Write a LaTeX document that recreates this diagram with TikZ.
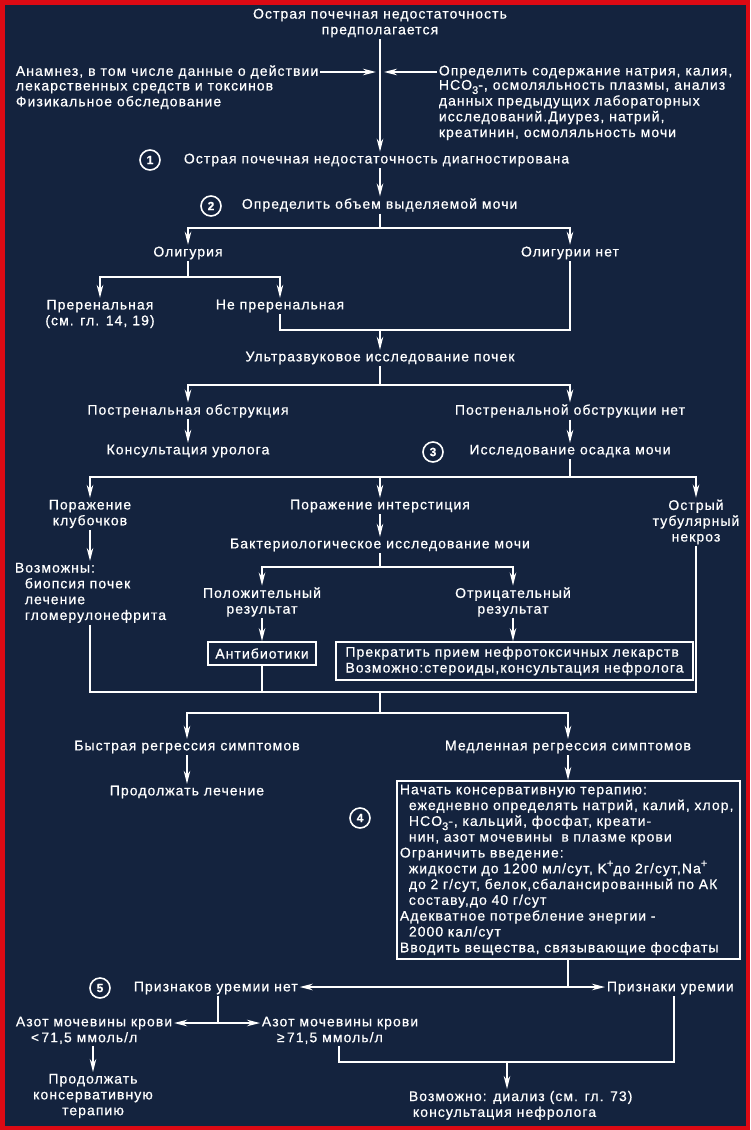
\documentclass[tikz,border=0pt]{standalone}
\usepackage{fontspec}
\setmainfont{Liberation Sans}[LetterSpace=7.5,FakeBold=0.6]
\usetikzlibrary{arrows.meta,calc}
\definecolor{bg}{HTML}{14233E}
\definecolor{frame}{HTML}{DC0A14}
\newcommand\myfs{\fontsize{14}{15.8}\selectfont}
\newcommand\lowidx[1]{\raisebox{-0.3em}{\fontsize{11}{11}\selectfont #1}}
\newcommand\upidx[1]{\raisebox{0.45em}{\fontsize{11}{11}\selectfont #1}}
\tikzset{
  txt/.style={text=white, inner sep=1pt, font=\myfs},
  circ/.style={circle, draw=white, line width=1.6pt, text=white, minimum size=20pt, inner sep=0pt, font=\fontsize{12}{12}\selectfont\bfseries},
  boxs/.style={txt, draw=white, line width=1.8pt},
  arr/.style={-{Stealth[length=13pt,width=6.5pt]}},
  ln/.style={draw=white, line width=1.8pt}
}
\begin{document}
\begin{tikzpicture}[x=1pt,y=-1pt]
\fill[bg] (0,0) rectangle (750,1130);
\draw[frame, line width=4.5pt] (2.25,2.25) rectangle (747.75,1127.75);
\useasboundingbox (0,0) rectangle (750,1130);
\begin{scope}[every path/.style={ln}]
% top
\node[txt, align=center] (t) at (380,23) {Острая почечная недостаточность\\предполагается};
\node[txt, anchor=west] (l1) at (14,72) {Анамнез, в том числе данные о действии};
\node[txt, anchor=west, align=left] (l2) at (14,96) {лекарственных средств и токсинов\\Физикальное обследование};
\node[txt, anchor=west] (r1) at (437,72) {Определить содержание натрия, калия,};
\node[txt, anchor=west, align=left] (r2) at (437,110) {HCO\lowidx{3}-, осмоляльность плазмы, анализ\\данных предыдущих лабораторных\\исследований.Диурез, натрий,\\креатинин, осмоляльность мочи};
\coordinate (m1) at (380,72);
\node[circ] (c1) at (150,160) {1};
\node[txt, anchor=west] (n1) at (182,160) {Острая почечная недостаточность диагностирована};
\draw[arr] (t.south) -- (t.south |- n1.north);
\draw[arr] (l1.east) -- ([xshift=-4pt]m1);
\draw[arr] (r1.west) -- ([xshift=4pt]m1);
% step 2
\node[circ] (c2) at (211,206) {2};
\node[txt, anchor=west] (n2) at (240,205) {Определить объем выделяемой мочи};
\draw[arr] (n1.south -| t.south) -- (n2.north -| t.south);
\node[txt] (olig) at (188,253) {Олигурия};
\node[txt] (oligno) at (570,253) {Олигурии нет};
\coordinate (j2) at (380,228);
\draw (n2.south -| j2) -- (j2);
\draw[arr] (j2) -| (olig.north);
\draw[arr] (j2) -| (oligno.north);
\node[txt, align=center] (pre) at (100,314) {Преренальная\\(см. гл. 14, 19)};
\node[txt] (nepre) at (280,306) {Не преренальная};
\coordinate (j3) at (188,277);
\draw (olig.south) -- (j3);
\draw[arr] (j3) -| (pre.north);
\draw[arr] (j3) -| (nepre.north);
\node[txt] (us) at (380,358) {Ультразвуковое исследование почек};
\coordinate (j4) at (380,330);
\draw (nepre.south) |- (oligno.south |- j4) -- (oligno.south);
\draw[arr] (j4) -- (us.north);
% ultrasound
\node[txt] (posto) at (188,411) {Постренальная обструкция};
\node[txt] (postno) at (570,411) {Постренальной обструкции нет};
\coordinate (j5) at (380,385);
\draw (us.south) -- (j5);
\draw[arr] (j5) -| (posto.north);
\draw[arr] (j5) -| (postno.north);
\node[txt] (uro) at (188,451) {Консультация уролога};
\node[circ] (c3) at (433,452) {3};
\node[txt] (osad) at (570,451) {Исследование осадка мочи};
\draw[arr] (posto.south) -- (uro.north);
\draw[arr] (postno.south) -- (osad.north);
% sediment
\node[txt, align=center] (glom) at (90,514) {Поражение\\клубочков};
\node[txt] (inter) at (380,506) {Поражение интерстиция};
\node[txt, align=center] (atn) at (696,522) {Острый\\тубулярный\\некроз};
\coordinate (j6) at (570,477);
\draw (osad.south) -- (j6);
\draw[arr] (j6) -| (glom.north);
\draw[arr] (j6) -| (atn.north);
\draw[arr] (inter.north |- j6) -- (inter.north);
\node[txt, anchor=north west, align=left] (vozm) at (13,561) {Возможны:\\\hspace*{10pt}биопсия почек\\\hspace*{10pt}лечение\\\hspace*{10pt}гломерулонефрита};
\draw[arr] (glom.south) -- (glom.south |- vozm.north);
\node[txt] (bact) at (380,545) {Бактериологическое исследование мочи};
\draw[arr] (inter.south) -- (bact.north);
\node[txt, align=center] (pos) at (262,602) {Положительный\\результат};
\node[txt, align=center] (neg) at (513,602) {Отрицательный\\результат};
\coordinate (j7) at (380,567);
\draw (bact.south) -- (j7);
\draw[arr] (j7) -| (pos.north);
\draw[arr] (j7) -| (neg.north);
\node[boxs, minimum width=108pt, minimum height=23pt] (antib) at (262,653.5) {Антибиотики};
\node[boxs, align=left, minimum width=357pt, minimum height=38pt, inner sep=2pt] (stop) at (514.5,661) {Прекратить прием нефротоксичных лекарств\\Возможно:стероиды,консультация нефролога};
\draw[arr] (pos.south) -- (antib.north);
\draw[arr] (neg.south) -- (stop.north -| neg.south);
\coordinate (j9) at (380,692);
\draw (glom.south |- vozm.south) |- (atn.south |- j9) -- (atn.south);
\draw (antib.south) -- (antib.south |- j9);
% regression
\node[txt] (fast) at (187,747) {Быстрая регрессия симптомов};
\node[txt] (slow) at (568,747) {Медленная регрессия симптомов};
\coordinate (j10) at (380,713);
\draw (j9) -- (j10);
\draw[arr] (j10) -| (fast.north);
\draw[arr] (j10) -| (slow.north);
\node[txt] (cont) at (187,792) {Продолжать лечение};
\draw[arr] (fast.south) -- (cont.north);
\node[boxs, anchor=north west, align=left, text width=337pt, inner sep=3pt, minimum height=178pt] (big) at (396,780) {Начать консервативную терапию:\\
\hspace*{9pt}ежедневно определять натрий, калий, хлор,\\
\hspace*{9pt}HCO\lowidx{3}-, кальций, фосфат, креати-\\
\hspace*{9pt}нин, азот мочевины \ в плазме крови\\
Ограничить введение:\\
\hspace*{9pt}жидкости до 1200 мл/сут, K\upidx{+}до 2г/сут,Na\upidx{+}\\
\hspace*{9pt}до 2 г/сут, белок,сбалансированный по АК\\
\hspace*{9pt}составу,до 40 г/сут\\
Адекватное потребление энергии -\\
\hspace*{9pt}2000 кал/сут\\
Вводить вещества, связывающие фосфаты};
\node[circ] (c4) at (360,818) {4};
\draw[arr] (slow.south) -- (slow.south |- big.north);
% uremia
\node[circ] (c5) at (100,988) {5};
\node[txt, anchor=west] (nour) at (132,988) {Признаков уремии нет};
\node[txt, anchor=west] (ur) at (605,988) {Признаки уремии};
\coordinate (j11) at (568,987);
\draw (slow.south |- big.south) -- (j11);
\draw[arr] (j11) -- (nour.east |- j11);
\draw[arr] (j11) -- (ur.west |- j11);
\node[txt, anchor=west] (azl) at (14,1023) {Азот мочевины крови};
\node[txt, anchor=west] (azl2) at (29,1038) {<\,71,5 ммоль/л};
\node[txt, anchor=west] (azr) at (260,1023) {Азот мочевины крови};
\node[txt, anchor=west] (azr2) at (275,1038) {≥\,71,5 ммоль/л};
\coordinate (j12) at (218,1023);
\draw (nour.south -| j12) -- (j12);
\draw[arr] (j12) -- (azl.east);
\draw[arr] (j12) -- (azr.west);
\node[txt, align=center] (pcons) at (93,1096) {Продолжать\\консервативную\\терапию};
\draw[arr] (azl2.south -| pcons.north) -- (pcons.north);
\node[txt, anchor=north west, align=left] (dial) at (407,1089) {Возможно: диализ (см. гл. 73)\\\hspace*{4pt}консультация нефролога};
\coordinate (j13) at (507,1062);
\draw (azr2.south -| 339,0) |- (j13) -| (674,0 |- ur.south);
\draw[arr] (j13) -- (dial.north -| j13);
\end{scope}
\end{tikzpicture}
\end{document}
